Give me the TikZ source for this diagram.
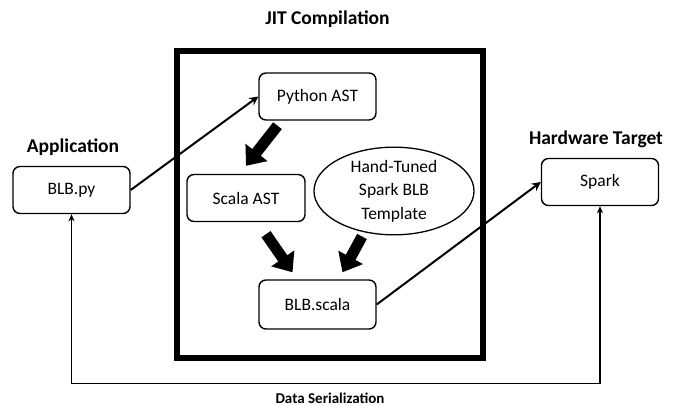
\documentclass[tikz,border=0pt]{standalone}
\usepackage{fontspec}
\setmainfont{Carlito}
\usetikzlibrary{arrows.meta,shapes.geometric}
\tikzset{
  stage/.style={draw, line width=1.4pt, rounded corners=7pt, minimum width=117, minimum height=47,
    font=\fontsize{17.5}{21}\selectfont},
  tmplnode/.style={draw, ellipse, line width=1.3pt, minimum width=160, minimum height=84, inner sep=0pt,
    align=center, font=\fontsize{17.5}{23.5}\selectfont},
  heading/.style={font=\bfseries\fontsize{19.5}{23}\selectfont},
  flow/.style={line width=2pt, -{Stealth[length=9pt,width=9pt,inset=3pt]}},
  bigflow/.style={line width=11pt, -{Triangle[length=17pt,width=27pt]}},
  loopflow/.style={line width=1.3pt, {Stealth[length=7pt,width=6pt,inset=2pt]}-{Stealth[length=7pt,width=6pt,inset=2pt]}},
}
\begin{document}
\begin{tikzpicture}[x=1pt,y=-1pt]
\useasboundingbox (0,0) rectangle (682,406);
% compiler box
\node[draw, line width=6pt, minimum width=306, minimum height=307, inner sep=0pt] (jit) at (330,204.5) {};
\node[heading] (jittitle) at (327.5,19) {JIT Compilation};
\node[heading] (apptitle) at (73,147) {Application};
\node[heading] (hwtitle) at (596,139) {Hardware Target};
% stages
\node[stage] (blbpy) at (71.5,190) {BLB.py};
\node[stage] (pyast) at (317.5,96.5) {Python AST};
\node[stage, minimum width=118] (scalaast) at (246,198) {Scala AST};
\node[tmplnode] (tmpl) at (394,191) {Hand-Tuned\\Spark BLB\\Template};
\node[stage, minimum height=49] (blbscala) at (317.5,304.5) {BLB.scala};
\node[stage] (spark) at (600,182) {Spark};
% arrows
\draw[flow] (blbpy.east) -- (pyast.west);
\draw[flow] (blbscala.east) -- (spark.west);
\draw[bigflow] ([xshift=-40pt,yshift=-5pt]pyast.south) -- ([yshift=8pt]scalaast.north);
\draw[bigflow] ([xshift=20pt,yshift=-12pt]scalaast.south) -- ([xshift=-25pt,yshift=7pt]blbscala.north);
\draw[bigflow] ([xshift=-32pt,yshift=-1pt]tmpl.south) -- ([xshift=25pt,yshift=7pt]blbscala.north);
% serialization loop
\coordinate (loopy) at (0,383.5);
\draw[loopflow] (blbpy.south) -- (blbpy.south |- loopy) -| (spark.south);
\node[font=\bfseries\fontsize{15}{18}\selectfont, inner sep=0pt] (serial) at (330,398) {Data Serialization};
\end{tikzpicture}
\end{document}
